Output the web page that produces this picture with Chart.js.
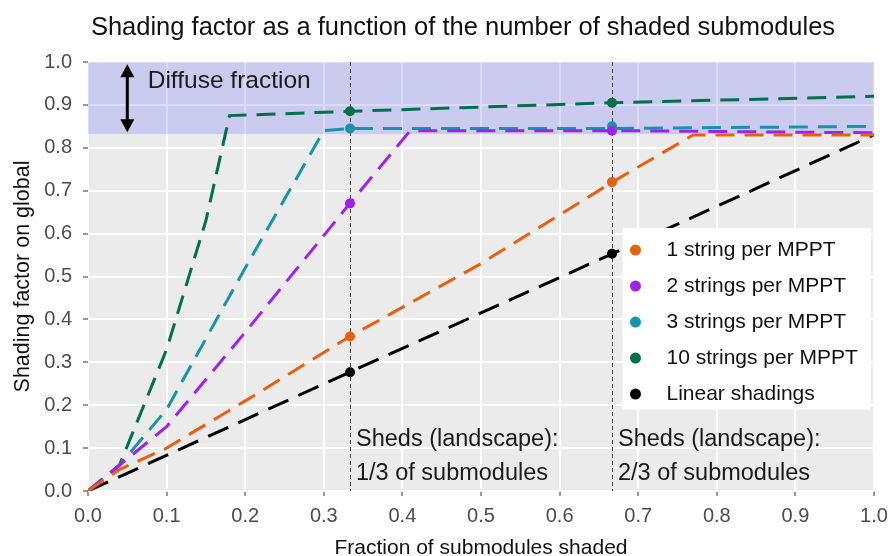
<!DOCTYPE html>
<html>
<head>
<meta charset="utf-8">
<script src="https://cdn.jsdelivr.net/npm/chart.js@4"></script>
<style>
  body { margin: 0; background: #fff; }
  #wrap { width: 891px; height: 556px; }
</style>
</head>
<body>
<div id="wrap"><canvas id="chart" width="891" height="556"></canvas></div>
<script>
// values
const xOne = [0, 0.04, 0.1, 0.2, 0.333, 0.5, 0.667, 0.77, 1.0];
const yOne = [0, 0.05, 0.1, 0.21, 0.36, 0.53, 0.72, 0.83, 0.83];
const xTwo = [0, 0.04, 0.1, 0.2, 0.333, 0.41, 0.667, 1.0];
const yTwo = [0, 0.06, 0.15, 0.37, 0.67, 0.84, 0.84, 0.835];
const xThree = [0, 0.04, 0.1, 0.2, 0.3, 0.333, 0.667, 1.0];
const yThree = [0, 0.06, 0.19, 0.52, 0.84, 0.845, 0.845, 0.85];
const xTen = [0, 0.04, 0.1, 0.15, 0.18, 0.333, 0.667, 1.0];
const yTen = [0, 0.06, 0.33, 0.63, 0.875, 0.885, 0.905, 0.92];
const xLinear = [0, 0.333, 0.667, 1.0];
const yLinear = [0, 0.277, 0.553, 0.83];

const markerX = [1/3, 2/3];
const markOne = [0.36, 0.72];
const markTwo = [0.67, 0.84];
const markThree = [0.845, 0.85];
const markTen = [0.885, 0.905];
const markLinear = [0.277, 0.553];

const seriesNames = ['1 string per MPPT', '2 strings per MPPT', '3 strings per MPPT', '10 strings per MPPT', 'Linear shadings'];
const seriesColors = ['#E8600C', '#A020F0', '#1496A8', '#00704A', '#000000'];
const axisTicks = [0, 0.1, 0.2, 0.3, 0.4, 0.5, 0.6, 0.7, 0.8, 0.9, 1.0];
const diffuseFrom = 0.832;
const shedLines = [1/3, 2/3];
const titleText = 'Shading factor as a function of the number of shaded submodules';

const FONT = '"Liberation Sans", Arial, sans-serif';

function pts(xs, ys) { return xs.map((x, i) => ({ x: x, y: ys[i] })); }

const lineSets = [[xOne, yOne], [xTwo, yTwo], [xThree, yThree], [xTen, yTen], [xLinear, yLinear]];
const markSets = [markOne, markTwo, markThree, markTen, markLinear];

const datasets = [];
lineSets.forEach((s, i) => {
  datasets.push({
    label: seriesNames[i],
    data: pts(s[0], s[1]),
    borderColor: seriesColors[i],
    borderWidth: 3,
    borderDash: i === 4 ? [22, 11] : [19, 10],
    pointRadius: 0,
    tension: 0,
    fill: false
  });
});
markSets.forEach((m, i) => {
  datasets.push({
    label: seriesNames[i] + ' pts',
    data: pts(markerX, m),
    showLine: false,
    pointRadius: 5,
    pointBackgroundColor: seriesColors[i],
    pointBorderWidth: 0
  });
});

const decor = {
  id: 'decor',
  beforeDraw(chart) {
    const { ctx, chartArea: a } = chart;
    ctx.save();
    ctx.fillStyle = '#EBEBEB';
    ctx.fillRect(a.left, a.top, a.right - a.left, a.bottom - a.top);
    // title, centred a bit right of the canvas middle like the original
    ctx.fillStyle = '#111';
    ctx.font = '25.5px ' + FONT;
    ctx.textAlign = 'center';
    ctx.textBaseline = 'middle';
    ctx.fillText(titleText, 463, 28);
    ctx.restore();
  },
  beforeDatasetsDraw(chart) {
    const { ctx, chartArea: a, scales: { x, y } } = chart;
    ctx.save();
    // diffuse band
    ctx.fillStyle = 'rgba(120,120,250,0.27)';
    const yb = y.getPixelForValue(diffuseFrom);
    ctx.fillRect(a.left, a.top, a.right - a.left, yb - a.top);
    // shed lines
    ctx.strokeStyle = '#444';
    ctx.lineWidth = 1;
    ctx.setLineDash([4, 3]);
    shedLines.forEach(v => {
      const px = Math.round(x.getPixelForValue(v)) + 0.5;
      ctx.beginPath();
      ctx.moveTo(px, a.top);
      ctx.lineTo(px, a.bottom);
      ctx.stroke();
    });
    ctx.setLineDash([]);
    // arrow
    const ax = x.getPixelForValue(0.05);
    const ay1 = y.getPixelForValue(0.995), ay2 = y.getPixelForValue(0.836);
    ctx.strokeStyle = '#000';
    ctx.fillStyle = '#000';
    ctx.lineWidth = 3;
    ctx.beginPath();
    ctx.moveTo(ax, ay1 + 8);
    ctx.lineTo(ax, ay2 - 8);
    ctx.stroke();
    ctx.beginPath();
    ctx.moveTo(ax, ay1); ctx.lineTo(ax - 7, ay1 + 13); ctx.lineTo(ax + 7, ay1 + 13); ctx.closePath();
    ctx.fill();
    ctx.beginPath();
    ctx.moveTo(ax, ay2); ctx.lineTo(ax - 7, ay2 - 13); ctx.lineTo(ax + 7, ay2 - 13); ctx.closePath();
    ctx.fill();
    // texts
    ctx.fillStyle = '#1a1a1a';
    ctx.font = '24.5px ' + FONT;
    ctx.textBaseline = 'middle';
    ctx.textAlign = 'left';
    ctx.fillText('Diffuse fraction', x.getPixelForValue(0.076), y.getPixelForValue(0.955));
    ctx.font = '23.5px ' + FONT;
    ctx.fillText('Sheds (landscape):', x.getPixelForValue(1/3) + 6, y.getPixelForValue(0.119));
    ctx.fillText('1/3 of submodules', x.getPixelForValue(1/3) + 6, y.getPixelForValue(0.04));
    ctx.fillText('Sheds (landscape):', x.getPixelForValue(2/3) + 6, y.getPixelForValue(0.119));
    ctx.fillText('2/3 of submodules', x.getPixelForValue(2/3) + 6, y.getPixelForValue(0.04));
    ctx.restore();
  },
  afterDraw(chart) {
    const { ctx, scales: { x, y } } = chart;
    ctx.save();
    const left = x.getPixelForValue(0.68), right = x.getPixelForValue(0.996);
    const top = y.getPixelForValue(0.613), bottom = y.getPixelForValue(0.19);
    ctx.fillStyle = '#fff';
    ctx.fillRect(left, top, right - left, bottom - top);
    ctx.font = '21px ' + FONT;
    ctx.textBaseline = 'middle';
    ctx.textAlign = 'left';
    seriesNames.forEach((n, i) => {
      const cy = top + 22 + i * 36;
      ctx.fillStyle = seriesColors[i];
      ctx.beginPath();
      ctx.arc(left + 13, cy, 5.5, 0, Math.PI * 2);
      ctx.fill();
      ctx.fillStyle = '#111';
      ctx.fillText(n, left + 44, cy);
    });
    ctx.restore();
  }
};

new Chart(document.getElementById('chart'), {
  type: 'line',
  data: { datasets: datasets },
  plugins: [decor],
  options: {
    responsive: false,
    animation: false,
    devicePixelRatio: 1,
    layout: { padding: { top: 62, right: 17, left: 0, bottom: 0 } },
    plugins: {
      legend: { display: false },
      tooltip: { enabled: false },
      title: { display: false }
    },
    scales: {
      x: {
        type: 'linear',
        min: 0, max: 1,
        afterBuildTicks: s => { s.ticks = axisTicks.map(v => ({ value: v })); },
        afterFit: s => { s.height = 65; s.paddingLeft = 0; s.paddingRight = 0; },
        border: { display: false },
        grid: { color: '#fff', lineWidth: 2, tickColor: '#333', tickLength: 5, tickWidth: 1 },
        ticks: { color: '#4D4D4D', font: { family: FONT, size: 20 }, padding: 8, maxRotation: 0,
                 callback: v => v.toFixed(1) },
        title: { display: true, text: 'Fraction of submodules shaded', color: '#111',
                 font: { family: FONT, size: 21, lineHeight: 1 }, padding: { top: 0, bottom: -3 } }
      },
      y: {
        type: 'linear',
        min: 0, max: 1,
        afterBuildTicks: s => { s.ticks = axisTicks.map(v => ({ value: v })); },
        afterFit: s => { s.width = 88; s.paddingTop = 0; s.paddingBottom = 0; },
        border: { display: false },
        grid: { color: '#fff', lineWidth: 2, tickColor: '#333', tickLength: 5, tickWidth: 1 },
        ticks: { color: '#4D4D4D', font: { family: FONT, size: 20 }, padding: 11,
                 callback: v => v.toFixed(1) },
        title: { display: true, text: 'Shading factor on global', color: '#111',
                 font: { family: FONT, size: 21.5, lineHeight: 1 }, padding: { top: 12, bottom: 0 } }
      }
    }
  }
});
</script>
</body>
</html>
